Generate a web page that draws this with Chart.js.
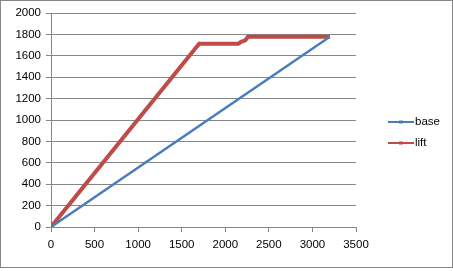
<!DOCTYPE html>
<html>
<head>
<meta charset="utf-8">
<script src="https://cdn.jsdelivr.net/npm/chart.js@4"></script>
<style>
  body { margin: 0; background: #fff; }
  #wrap { position: absolute; left: 0; top: 0; width: 453px; height: 271px; }
  #frame { position: absolute; left: 0; top: 0; width: 451px; height: 266px; border: 1px solid #868686; pointer-events: none; }
</style>
</head>
<body>
<div id="wrap">
  <canvas id="chart" width="453" height="271"></canvas>
  <div id="frame"></div>
</div>
<script>
// series
const baseX = [0, 3200];
const baseY = [0, 1778];
const liftX = [0, 1700, 2150, 2180, 2230, 2260, 3200];
const liftY = [0, 1712, 1712, 1730, 1745, 1778, 1778];
const seriesNames = ["base", "lift"];
const seriesColors = ["#4a7ebb", "#be4b48"];

const toPoints = (xs, ys) => xs.map((x, i) => ({ x: x, y: ys[i] }));

const font = { family: "'Liberation Sans', Arial, sans-serif", size: 11.5 };

// simple Excel-like legend on the right
const sideLegend = {
    id: "sideLegend",
    afterDraw(chart) {
        const ctx = chart.ctx;
        ctx.save();
        ctx.font = "11.5px 'Liberation Sans', Arial, sans-serif";
        ctx.textBaseline = "middle";
        chart.data.datasets.forEach((ds, i) => {
            const y = 122 + i * 21;
            ctx.strokeStyle = ds.borderColor;
            ctx.lineWidth = 2;
            ctx.beginPath();
            ctx.moveTo(388, y);
            ctx.lineTo(414, y);
            ctx.stroke();
            ctx.lineWidth = 1;
            ctx.beginPath();
            ctx.moveTo(400, y - 2);
            ctx.lineTo(400, y + 2);
            ctx.moveTo(402, y - 2);
            ctx.lineTo(402, y + 2);
            ctx.stroke();
            ctx.fillStyle = "#000";
            ctx.fillText(ds.label, 415, y);
        });
        ctx.restore();
    }
};

new Chart(document.getElementById("chart"), {
    type: "scatter",
    data: {
        datasets: [
            {
                label: seriesNames[0],
                data: toPoints(baseX, baseY),
                showLine: true,
                borderColor: seriesColors[0],
                backgroundColor: seriesColors[0],
                borderWidth: 2.5,
                pointRadius: 0
            },
            {
                label: seriesNames[1],
                data: toPoints(liftX, liftY),
                showLine: true,
                borderColor: seriesColors[1],
                backgroundColor: seriesColors[1],
                borderWidth: 4,
                pointRadius: 0
            }
        ]
    },
    options: {
        responsive: false,
        animation: false,
        layout: { padding: { top: 13, right: 97, left: 0, bottom: 0 } },
        plugins: { legend: { display: false }, tooltip: { enabled: false } },
        scales: {
            x: {
                type: "linear",
                min: 0, max: 3500,
                ticks: { stepSize: 500, color: "#000", font: font, padding: 6, maxRotation: 0,
                         callback: v => String(v) },
                grid: { drawOnChartArea: false, drawTicks: true, tickLength: 5, color: "#868686" },
                border: { color: "#868686" },
                afterFit: s => { s.height = 44; }
            },
            y: {
                min: 0, max: 2000,
                ticks: { stepSize: 200, color: "#000", font: font, padding: 5,
                         callback: v => String(v) },
                grid: { color: "#868686", tickLength: 5 },
                border: { color: "#868686" },
                afterFit: s => { s.width = 51; }
            }
        }
    },
    plugins: [sideLegend]
});
</script>
</body>
</html>
